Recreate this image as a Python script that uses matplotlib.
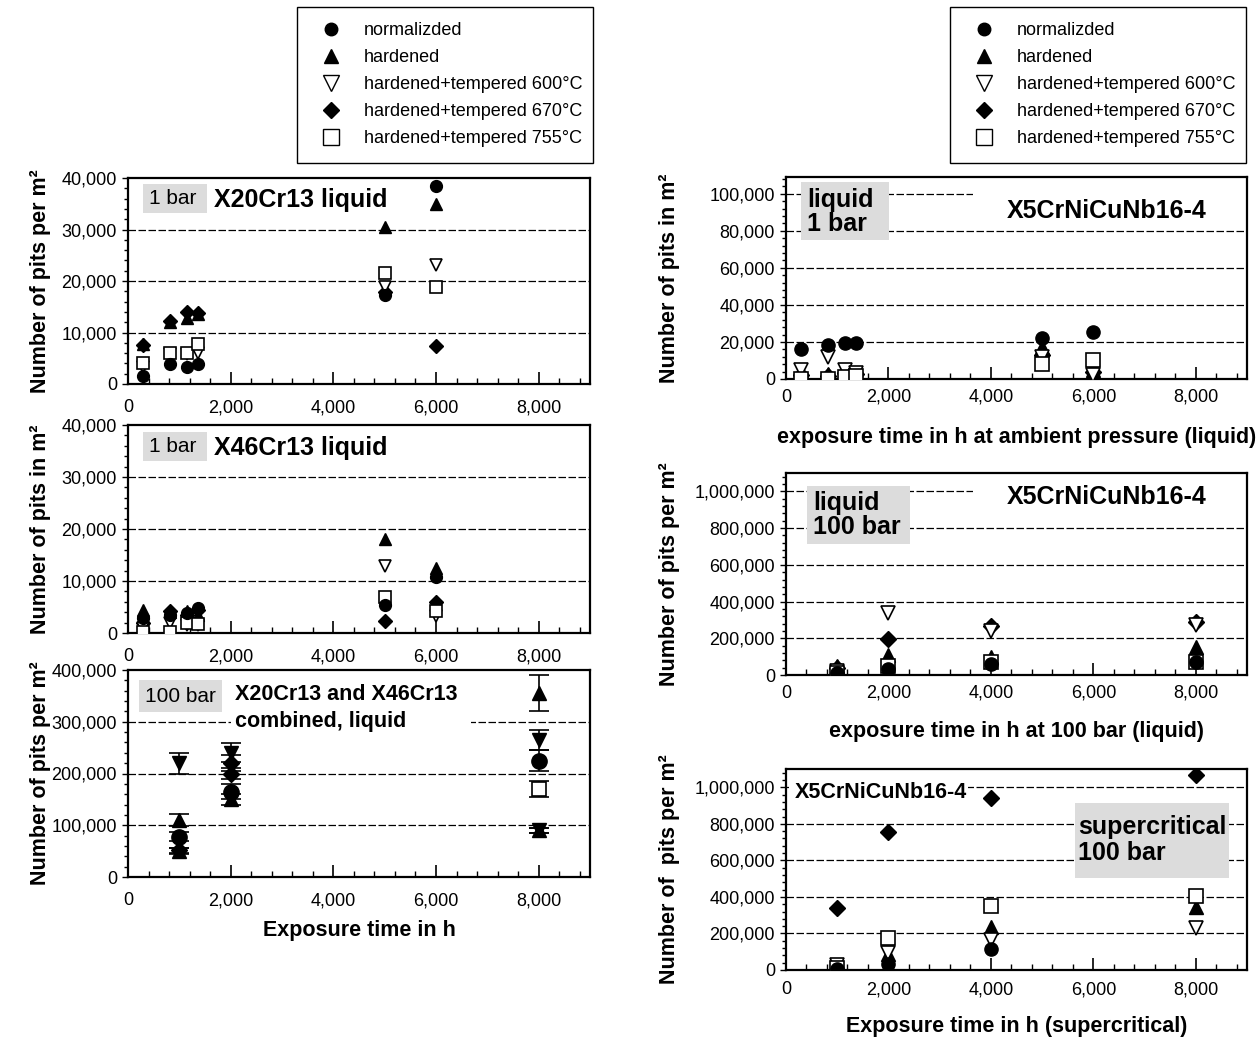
import numpy as np
import matplotlib
matplotlib.use("Agg")
import matplotlib.pyplot as plt
from matplotlib.lines import Line2D
from matplotlib.patches import Rectangle
from matplotlib.ticker import MultipleLocator, FuncFormatter

plt.rcParams['font.family'] = ['Liberation Sans', 'DejaVu Sans']

nan = np.nan

# legend labels
labels = ["normalizded", "hardened", "hardened+tempered 600°C",
          "hardened+tempered 670°C", "hardened+tempered 755°C"]

# X20Cr13, 1 bar, liquid
tl_x = [290, 820, 1150, 1370, 5000, 6000]
tl_norm = [1500, 3800, 3300, 3800, 17300, 38500]
tl_hard = [7700, 12000, 12800, 13600, 30500, 35000]
tl_t600 = [3300, 5800, 5800, 6000, 18800, 23200]
tl_t670 = [7500, 12200, 14000, 13800, 17800, 7300]
tl_t755 = [4000, 6000, 6000, 7800, 21500, 18800]

# X46Cr13, 1 bar, liquid
ml_x = [290, 820, 1150, 1370, 5000, 6000]
ml_norm = [2800, 3500, 3800, 4800, 5300, 10800]
ml_hard = [4500, 4000, 4200, 3500, 18000, 12500]
ml_t600 = [1000, 2000, 1500, 1500, 12800, 3300]
ml_t670 = [2000, 4200, 3500, 4500, 2300, 6000]
ml_t755 = [100, 100, 2000, 1800, 7000, 4300]

# X20Cr13 + X46Cr13 combined, 100 bar, liquid (with scatter)
bl_dn_x = [1000, 2000, 8000, 8000]
bl_dn_y = [220000, 240000, 265000, 90000]
bl_dn_e = [20000, 18000, 20000, 5000]
bl_up_x = [1000, 1000, 2000, 8000, 8000]
bl_up_y = [110000, 50000, 150000, 355000, 90000]
bl_up_e = [12000, 6000, 10000, 35000, 5000]
bl_ci_x = [1000, 2000, 8000]
bl_ci_y = [78000, 165000, 225000]
bl_ci_e = [8000, 15000, 20000]
bl_di_x = [1000, 2000, 2000]
bl_di_y = [52000, 220000, 200000]
bl_di_e = [5000, 15000, 10000]
bl_sq_x = [8000]
bl_sq_y = [170000]
bl_sq_e = [15000]

# X5CrNiCuNb16-4, 1 bar, liquid
tr_x = [290, 820, 1150, 1370, 5000, 6000]
tr_norm = [16000, 18500, 19500, 19500, 22000, 25500]
tr_hard = [2500, 2500, 4000, 3500, 17000, 5000]
tr_t600 = [5000, 12000, 5000, 3000, 12000, 2000]
tr_t670 = [2000, 1500, 3000, 2500, 13000, 4000]
tr_t755 = [0, 0, 1000, 1500, 8000, 10000]

# X5CrNiCuNb16-4, 100 bar, liquid
mr_x = [1000, 2000, 4000, 8000]
mr_norm = [10000, 35000, 60000, 70000]
mr_hard = [50000, 110000, 100000, 150000]
mr_t600 = [20000, 340000, 240000, 270000]
mr_t670 = [40000, 195000, 265000, 290000]
mr_t755 = [10000, 50000, 70000, 70000]

# X5CrNiCuNb16-4, 100 bar, supercritical
br_x = [1000, 2000, 4000, 8000]
br_norm = [5000, 35000, 115000, nan]
br_hard = [5000, 90000, 235000, 345000]
br_t600 = [25000, 95000, 165000, 230000]
br_t670 = [340000, 755000, 940000, 1065000]
br_t755 = [10000, 175000, 350000, 405000]

W, H = 1260, 1037
fig = plt.figure(figsize=(W / 100, H / 100), dpi=100)
grey = '#dcdcdc'


def fx(px):
    return px / W


def fy(py):
    return 1 - py / H


def make_ax(left, right, top, bottom, ymax, ymaj, ymin, xpad=11):
    ax = fig.add_axes([fx(left), fy(bottom), (right - left) / W, (bottom - top) / H])
    ax.set_xlim(0, 9000)
    ax.set_ylim(0, ymax)
    ax.xaxis.set_major_locator(MultipleLocator(2000))
    ax.xaxis.set_minor_locator(MultipleLocator(400))
    ax.yaxis.set_major_locator(MultipleLocator(ymaj))
    ax.yaxis.set_minor_locator(MultipleLocator(ymin))
    fmt = FuncFormatter(lambda v, p: f"{v:,.0f}")
    ax.xaxis.set_major_formatter(fmt)
    ax.yaxis.set_major_formatter(fmt)
    ax.tick_params(axis='x', which='major', direction='in', length=9, width=1.2, labelsize=13, pad=xpad)
    ax.tick_params(axis='x', which='minor', direction='in', length=4, width=1)
    ax.tick_params(axis='y', which='major', direction='out', length=4, width=1, labelsize=13, pad=4)
    ax.tick_params(axis='y', which='minor', direction='out', length=3, width=1)
    for s in ax.spines.values():
        s.set_linewidth(1.6)
    for v in np.arange(ymaj, ymax * 0.99, ymaj):
        ax.axhline(v, color='black', lw=0.9, ls=(0, (6, 2)), zorder=0)
    return ax


def draw_five(ax, x, a, b, c, d, e, ms):
    ax.plot(x, b, '^', color='black', ms=ms, ls='none', zorder=3)
    ax.plot(x, d, 'D', color='black', ms=ms * 0.85, ls='none', zorder=3)
    ax.plot(x, c, 'v', mfc='white', mec='black', mew=1.2, ms=ms * 1.05, ls='none', zorder=3)
    ax.plot(x, e, 's', mfc='white', mec='black', mew=1.2, ms=ms * 1.05, ls='none', zorder=3)
    ax.plot(x, a, 'o', color='black', ms=ms, ls='none', zorder=4)


def box(ax, x0, y0, x1, y1, color):
    ax.add_patch(Rectangle((fx(x0), fy(y1)), (x1 - x0) / W, (y1 - y0) / H,
                           transform=fig.transFigure, facecolor=color,
                           edgecolor='none', zorder=1, clip_on=False))


def label(ax, x, y, s, size, weight='bold', ls=1.2):
    ax.text(fx(x), fy(y), s, transform=fig.transFigure, fontsize=size,
            fontweight=weight, ha='left', va='center', linespacing=ls, zorder=5)


def axis_labels(ax, ylab, yx, xlab=None, xy=None):
    ax.set_ylabel(ylab, fontsize=15.5, fontweight='bold', va='center', ha='center')
    ax.yaxis.set_label_coords(yx, 0.5)
    if xlab:
        ax.set_xlabel(xlab, fontsize=15.5, fontweight='bold', va='center', ha='center')
        ax.xaxis.set_label_coords(0.5, xy)


# left column
ax1 = make_ax(128, 590, 178, 384, 40000, 10000, 2000)
draw_five(ax1, tl_x, tl_norm, tl_hard, tl_t600, tl_t670, tl_t755, 8.5)
box(ax1, 143, 184, 207, 213, grey)
label(ax1, 149, 198, "1 bar", 15, 'normal')
label(ax1, 214, 200, "X20Cr13 liquid", 18)
axis_labels(ax1, "Number of pits per m²", -0.19)

ax2 = make_ax(128, 590, 425, 633, 40000, 10000, 2000)
draw_five(ax2, ml_x, ml_norm, ml_hard, ml_t600, ml_t670, ml_t755, 8.5)
box(ax2, 143, 432, 207, 461, grey)
label(ax2, 149, 446, "1 bar", 15, 'normal')
label(ax2, 214, 448, "X46Cr13 liquid", 18)
axis_labels(ax2, "Number of pits in m²", -0.19)

ax3 = make_ax(128, 590, 670, 877, 400000, 100000, 20000)
eb = dict(ls='none', color='black', ecolor='black', elinewidth=1.2, capsize=7, capthick=1.2, zorder=3)
ax3.errorbar(bl_dn_x, bl_dn_y, yerr=bl_dn_e, fmt='v', ms=10, **eb)
ax3.errorbar(bl_up_x, bl_up_y, yerr=bl_up_e, fmt='^', ms=10, **eb)
ax3.errorbar(bl_di_x, bl_di_y, yerr=bl_di_e, fmt='D', ms=8, **eb)
ax3.errorbar(bl_sq_x, bl_sq_y, yerr=bl_sq_e, fmt='s', ms=10, mfc='white', mew=1.2, **eb)
ax3.errorbar(bl_ci_x, bl_ci_y, yerr=bl_ci_e, fmt='o', ms=11, **eb)
box(ax3, 139, 680, 222, 712, grey)
label(ax3, 145, 696, "100 bar", 15, 'normal')
box(ax3, 231, 680, 471, 737, 'white')
label(ax3, 235, 708, "X20Cr13 and X46Cr13\ncombined, liquid", 15.5, ls=1.35)
axis_labels(ax3, "Number of pits per m²", -0.19, "Exposure time in h", -0.26)

# right column
ax4 = make_ax(786, 1247, 177, 379, 109000, 20000, 4000, xpad=7)
draw_five(ax4, tr_x, tr_norm, tr_hard, tr_t600, tr_t670, tr_t755, 9.5)
box(ax4, 801, 182, 889, 240, grey)
label(ax4, 807, 212, "liquid\n1 bar", 18, ls=1.05)
box(ax4, 973, 186, 1246, 222, 'white')
label(ax4, 1007, 211, "X5CrNiCuNb16-4", 18)
axis_labels(ax4, "Number of pits in m²", -0.253,
            "exposure time in h at ambient pressure (liquid)", -0.29)

ax5 = make_ax(786, 1247, 473, 675, 1100000, 200000, 40000, xpad=7)
draw_five(ax5, mr_x, mr_norm, mr_hard, mr_t600, mr_t670, mr_t755, 9.5)
box(ax5, 807, 486, 910, 544, grey)
label(ax5, 813, 515, "liquid\n100 bar", 18, ls=1.05)
box(ax5, 973, 481, 1246, 516, 'white')
label(ax5, 1007, 497, "X5CrNiCuNb16-4", 18)
axis_labels(ax5, "Number of pits per m²", -0.253,
            "exposure time in h at 100 bar (liquid)", -0.28)

ax6 = make_ax(786, 1247, 769, 970, 1100000, 200000, 40000, xpad=8)
draw_five(ax6, br_x, br_norm, br_hard, br_t600, br_t670, br_t755, 9.5)
box(ax6, 789, 779, 968, 807, 'white')
label(ax6, 795, 793, "X5CrNiCuNb16-4", 15.5)
box(ax6, 1075, 803, 1229, 878, grey)
label(ax6, 1078, 840, "supercritical\n100 bar", 18, ls=1.12)
axis_labels(ax6, "Number of  pits per m²", -0.253,
            "Exposure time in h (supercritical)", -0.28)

# legends: frame drawn as a box, entries via fig.legend
handles = [
    Line2D([], [], marker='o', color='black', ls='none', ms=9),
    Line2D([], [], marker='^', color='black', ls='none', ms=10),
    Line2D([], [], marker='v', mfc='white', mec='black', ls='none', ms=11),
    Line2D([], [], marker='D', color='black', ls='none', ms=8),
    Line2D([], [], marker='s', mfc='white', mec='black', ls='none', ms=11),
]
for x0 in (297, 950):
    fig.patches.append(Rectangle((fx(x0), fy(163)), 296 / W, 156 / H,
                                 transform=fig.transFigure, facecolor='white',
                                 edgecolor='black', lw=1.0))
    fig.legend(handles, labels, loc='upper left',
               bbox_to_anchor=(fx(x0 + 16), fy(22)), fontsize=13,
               frameon=False, labelspacing=0.56, handletextpad=0.83,
               borderpad=0, borderaxespad=0, handlelength=2.0)

fig.savefig("out.png", dpi=100)
